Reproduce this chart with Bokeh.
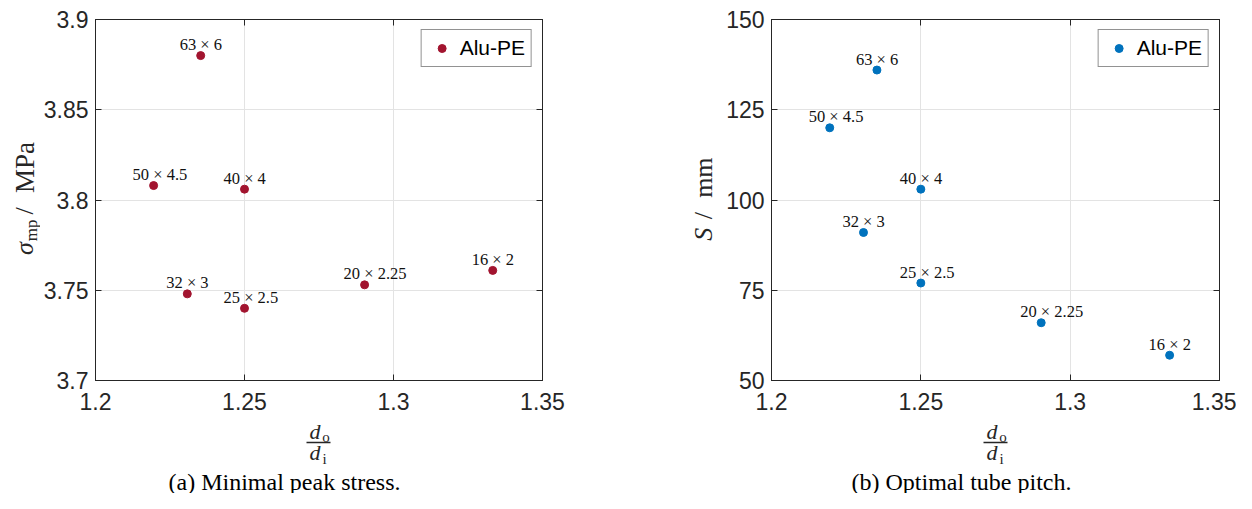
import math
from bokeh.plotting import figure
from bokeh.layouts import row, column
from bokeh.models import Range1d, FixedTicker, Legend, LegendItem, ColumnDataSource, LinearAxis
from bokeh.embed import file_html
from bokeh.resources import INLINE
from bokeh.core.properties import value

# ---------------- data ----------------
tubes = ["63 × 6", "50 × 4.5", "40 × 4", "32 × 3", "25 × 2.5", "20 × 2.25", "16 × 2"]
diameter_ratio = [1.2353, 1.2195, 1.25, 1.2308, 1.25, 1.2903, 1.3333]
peak_stress = [3.880, 3.808, 3.806, 3.748, 3.740, 3.753, 3.761]
tube_pitch = [136, 120, 103, 91, 77, 66, 57]

x_ticks = [1.2, 1.25, 1.3, 1.35]
x_tick_labels = ["1.2", "1.25", "1.3", "1.35"]
stress_ticks = [3.7, 3.75, 3.8, 3.85, 3.9]
stress_tick_labels = ["3.7", "3.75", "3.8", "3.85", "3.9"]
pitch_ticks = [50, 75, 100, 125, 150]
pitch_tick_labels = ["50", "75", "100", "125", "150"]

series_name = "Alu-PE"
captions = ["(a) Minimal peak stress.", "(b) Optimal tube pitch."]

RED = "#A2142F"
BLUE = "#0072BD"
AXC = "#262626"
SANS = "Liberation Sans"
SERIF = "Liberation Serif"

TOP, FRAME_H, BOTTOM = 19, 361, 40
MAIN_H = TOP + FRAME_H + BOTTOM      # 420
CAP_H = 73
FRAME_W = 448


def strip(width, height):
    s = figure(width=width, height=height, output_backend="svg", toolbar_location=None,
               x_range=Range1d(0, width), y_range=Range1d(0, height),
               min_border=0, x_axis_location=None, y_axis_location=None,
               background_fill_color="white", border_fill_color="white")
    s.outline_line_color = None
    s.grid.grid_line_color = None
    return s


def main_plot(width, mbl, yticks, ylabels, yvals, color):
    mbr = width - mbl - FRAME_W
    p = figure(width=width, height=MAIN_H, output_backend="svg", toolbar_location=None,
               x_range=Range1d(x_ticks[0], x_ticks[-1]), y_range=Range1d(yticks[0], yticks[-1]),
               min_border_left=mbl, min_border_right=mbr, min_border_top=TOP,
               min_border_bottom=BOTTOM,
               background_fill_color="white", border_fill_color="white")
    p.outline_line_color = AXC

    p.xaxis.ticker = FixedTicker(ticks=x_ticks)
    p.xaxis.major_label_overrides = dict(zip(x_ticks, x_tick_labels))
    p.yaxis.ticker = FixedTicker(ticks=yticks)
    p.yaxis.major_label_overrides = dict(zip(yticks, ylabels))
    for ax in (p.xaxis[0], p.yaxis[0]):
        ax.major_tick_in = 6
        ax.major_tick_out = 0
        ax.minor_tick_line_color = None
        ax.axis_line_color = AXC
        ax.major_tick_line_color = AXC
        ax.major_label_text_font = SANS
        ax.major_label_text_font_size = "23px"
        ax.major_label_text_color = AXC
    p.xaxis.major_label_standoff = 12
    p.yaxis.major_label_standoff = 7

    # mirrored ticks on the right and top (box on)
    rax = LinearAxis(ticker=FixedTicker(ticks=yticks), major_tick_in=6, major_tick_out=0,
                     minor_tick_line_color=None, major_label_overrides={t: "" for t in yticks},
                     major_label_standoff=0, axis_line_color=AXC, major_tick_line_color=AXC)
    p.add_layout(rax, "right")
    tax = LinearAxis(ticker=FixedTicker(ticks=x_ticks), major_tick_in=6, major_tick_out=0,
                     minor_tick_line_color=None, major_label_overrides={t: "" for t in x_ticks},
                     major_label_standoff=0, axis_line_color=AXC, major_tick_line_color=AXC)
    p.add_layout(tax, "above")

    p.xgrid.grid_line_color = "#e3e3e3"
    p.ygrid.grid_line_color = "#e3e3e3"

    src = ColumnDataSource(dict(x=diameter_ratio, y=yvals, t=tubes))
    r = p.scatter("x", "y", source=src, size=8, fill_color=color, line_color=color, line_width=1)
    p.text("x", "y", text="t", source=src, text_align="left", text_baseline="middle",
           x_offset=-21, y_offset=-11, text_font=value(SERIF), text_font_size="16.5px",
           text_color="#111111")

    leg = Legend(items=[LegendItem(label=series_name, renderers=[r])], location="top_right",
                 margin=10, padding=6, spacing=0, glyph_width=28, glyph_height=20,
                 label_height=20, label_standoff=4, label_text_font=SANS,
                 label_text_font_size="21px", label_text_color="black",
                 border_line_color=AXC, border_line_width=1, background_fill_alpha=1.0)
    p.add_layout(leg)
    return p


def ylabel_strip(width, pieces):
    # pieces: (text, x_middle, offset_along_label, size, italic, length)
    s = strip(width, MAIN_H)
    yc = MAIN_H - (TOP + FRAME_H / 2)
    total = pieces[-1][2] + pieces[-1][5]
    y0 = yc - total / 2 - 13
    for txt, xm, off, size, italic, _ in pieces:
        s.text(x=[xm], y=[y0 + off], text=[txt], angle=math.pi / 2, text_align="left",
               text_baseline="middle", text_font=value(SERIF),
               text_font_style="italic" if italic else "normal",
               text_font_size=f"{size}px", text_color=AXC)
    return s


def caption_strip(width, frame_cx, caption_cx, caption):
    c = strip(width, CAP_H)
    # x label: fraction d_o / d_i
    c.text(x=[frame_cx - 3.5, frame_cx - 3.5], y=[62, 41], text=["d", "d"], text_font=value(SERIF),
           text_font_style="italic", text_font_size="22px", text_align="center",
           text_baseline="middle", text_color=AXC)
    c.text(x=[frame_cx + 7.5, frame_cx + 6], y=[57, 35], text=["o", "i"], text_font=value(SERIF),
           text_font_size="15px", text_align="center", text_baseline="middle", text_color=AXC)
    c.segment(x0=[frame_cx - 12], x1=[frame_cx + 12], y0=[51], y1=[51], line_color=AXC,
              line_width=1.3)
    c.text(x=[caption_cx], y=[12], text=[caption], text_font=value(SERIF), text_font_size="24px",
           text_align="center", text_baseline="middle", text_color="black")
    return c


# ---------------- panel (a) ----------------
S1, M1, L1 = 40, 600, 54
ys1 = ylabel_strip(S1, [("σ", 24, 0, 26, True, 14),
                        ("mp", 31, 16, 17, False, 22),
                        ("/", 24, 47, 26, False, 8),
                        ("MPa", 24, 72, 27, False, 51)])
m1 = main_plot(M1, L1, stress_ticks, stress_tick_labels, peak_stress, RED)
c1 = caption_strip(S1 + M1, S1 + L1 + FRAME_W / 2, 284, captions[0])
panel_a = column(row(ys1, m1, spacing=0), c1, spacing=0)

# ---------------- panel (b) ----------------
S2, M2, L2 = 80, 516, 51
ys2 = ylabel_strip(S2, [("S", 63, 0, 26, True, 14),
                        ("/", 63, 25, 26, False, 8),
                        ("mm", 63, 50, 26, False, 40)])
m2 = main_plot(M2, L2, pitch_ticks, pitch_tick_labels, tube_pitch, BLUE)
c2 = caption_strip(S2 + M2, S2 + L2 + FRAME_W / 2, 961 - (S1 + M1), captions[1])
panel_b = column(row(ys2, m2, spacing=0), c2, spacing=0)

layout = row(panel_a, panel_b, spacing=0)
open("out.html", "w").write(file_html(layout, INLINE))
